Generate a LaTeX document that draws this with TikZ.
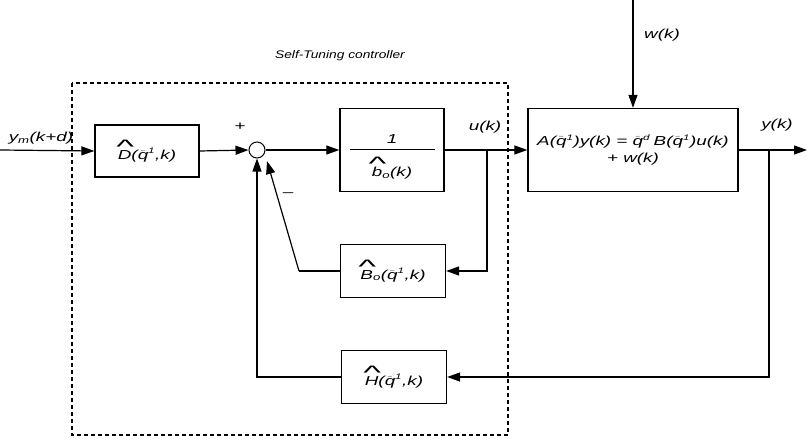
\documentclass[tikz,border=0pt]{standalone}
\usepackage{fontspec}
\usepackage{graphicx}
\setmainfont{Liberation Sans}
\newfontfamily\diafont[FakeStretch=1.45]{Liberation Sans}
\newfontfamily\titfont[FakeStretch=1.25]{Liberation Sans}
\usetikzlibrary{arrows.meta}
\newcommand{\hatl}[1]{\setbox0=\hbox{#1}\hbox{\rlap{\hbox to \wd0{\hss\raisebox{0.62\ht0}{\scalebox{2.0}[1.5]{\textasciicircum}}\hss}}\box0}}
\newcommand{\qb}[1]{\ensuremath{\bar{\mbox{\itshape q}}^{\mbox{\diafont\itshape\fontsize{8}{9}\selectfont #1}}}}
\begin{document}
\begin{tikzpicture}[x=1pt,y=-1pt,
  line width=1.3pt,
  lbl/.style={font=\diafont\itshape\fontsize{13}{15}\selectfont, inner sep=1pt},
  blk/.style={draw, line width=1.3pt, font=\diafont\itshape\fontsize{13}{15}\selectfont, align=center, inner sep=1pt},
  arr/.style={-{Triangle[length=13pt,width=9pt]}, line width=1.2pt},
  ln/.style={line width=1.2pt}]
\useasboundingbox (0,0) rectangle (807,439);

% dashed controller boundary
\draw[line width=1.1pt, dash pattern=on 4pt off 3pt] (72,83) rectangle (508,435);
\node[inner sep=1pt, font=\titfont\itshape\fontsize{11}{13}\selectfont] (title) at (340,56) {Self-Tuning controller};

% blocks
\node[blk, minimum width=104, minimum height=52] (D) at (147,151) {\hatl{D}(\qb{1},k)};
\node[draw, circle, line width=1pt, minimum size=16pt, inner sep=0pt] (S) at (257,150) {};
\node[blk, minimum width=104, minimum height=83] (G) at (392,150) {};
\node[lbl, align=center] (Gt) at (392,157)
  {1\\[-8pt]\rule{85pt}{1.2pt}\\[6pt]\hatl{b}\textsubscript{o}(k)};
\node[blk, minimum width=210, minimum height=83, inner sep=0pt] (P) at (633,150)
  {A(\qb{1})y(k) = \qb{d}\;B(\qb{1})u(k)\\[2pt]+ w(k)};
\node[blk, minimum width=105, minimum height=53] (B) at (393,271) {\hatl{B}\textsubscript{o}(\qb{1},k)};
\node[blk, minimum width=105, minimum height=53] (H) at (394,377) {\hatl{H}(\qb{1},k)};

% coordinates
\coordinate (in) at (0,150);
\coordinate (wtop) at (633,0);
\coordinate (out) at (807,150);
\coordinate (ub) at (487,150);
\coordinate (yb) at (769,150);
\coordinate (c1) at (299,271);
\coordinate (sm) at (267,161);

% connectors
\draw[arr] (in) -- (D.west);
\draw[arr] (D.east) -- (S.west);
\draw[arr] (S.east) -- (G.west);
\draw[arr] (G.east) -- (P.west);
\draw[arr] (wtop) -- (P.north);
\draw[arr] (P.east) -- (out);
\draw[arr] (ub) |- (B.east);
\draw[ln] (B.west) -- (c1);
\draw[arr] (c1) -- (sm);
\draw[arr] (yb) |- (H.east);
\draw[arr] (H.west) -| (S.south);

% labels
\node[lbl] (lym) at (41,138) {y\textsubscript{m}(k+d)};
\node[lbl] (lplus) at (240,127) {+};
\node[lbl] (lminus) at (288,195) {\textendash};
\node[lbl] (lu) at (485,127) {u(k)};
\node[lbl] (lw) at (662,35) {w(k)};
\node[lbl] (ly) at (777,125) {y(k)};
\end{tikzpicture}
\end{document}
